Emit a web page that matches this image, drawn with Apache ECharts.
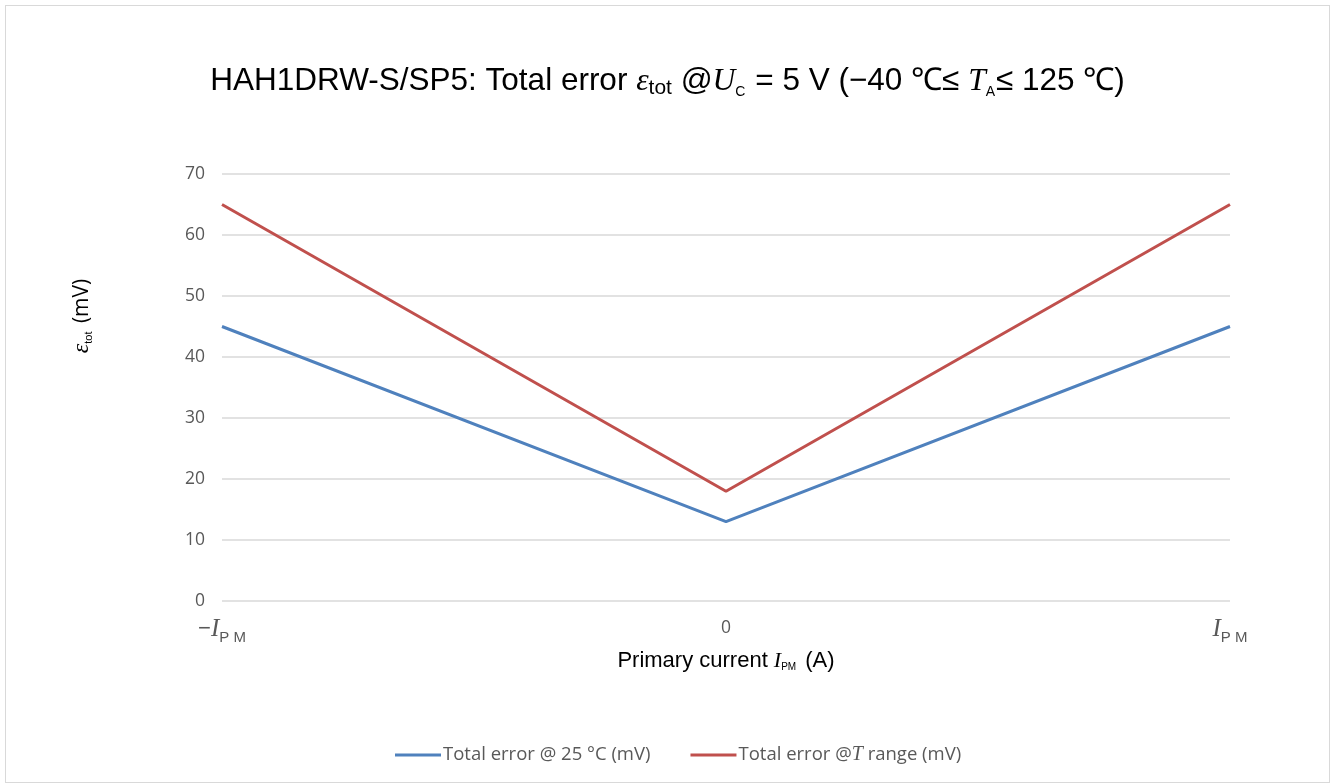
<!DOCTYPE html>
<html style="height: 100%">
<head>
<meta charset="utf-8">
<script type="text/javascript" src="https://cdn.jsdelivr.net/npm/echarts/dist/echarts.min.js"></script>
</head>
<body style="height: 100%; margin: 0; background: #fff">
<div id="container" style="position:absolute; left:5px; top:5px; width:1325px; height:778px; border:1px solid #d9d9d9; box-sizing:border-box"></div>
<script type="text/javascript">
// data
var categories = ['-IPM', '0', 'IPM'];
var err25 = [45, 13, 45];
var errRange = [65, 18, 65];
var seriesNames = ['Total error @ 25 °C (mV)', 'Total error @T range (mV)'];

var dom = document.getElementById('container');
var myChart = echarts.init(dom);

var serif = '"Liberation Serif", "DejaVu Serif", serif';
var sans = 'Arial, "Liberation Sans", sans-serif';
var tickFont = '"Open Sans", "Noto Sans", sans-serif';

var option = {
    animation: false,
    title: {
        text: '{t|HAH1DRW-S/SP5: Total error }{e|ε}{s|tot}{t| @}{i|U}{c|C}{t| = 5 V (−40 ℃≤ }{i|T}{c|A}{t|≤ 125 ℃)}',
        left: 'center',
        top: 53,
        textStyle: {
            fontWeight: 'normal',
            rich: {
                t: { fontFamily: sans, fontSize: 31.5, color: '#000', fontWeight: 'normal' },
                e: { fontFamily: serif, fontStyle: 'italic', fontSize: 31.5, color: '#000', fontWeight: 'normal' },
                i: { fontFamily: serif, fontStyle: 'italic', fontSize: 31.5, color: '#000', fontWeight: 'normal' },
                s: { fontFamily: sans, fontSize: 21, color: '#000', fontWeight: 'normal', verticalAlign: 'bottom', padding: [14, 0, 0, 0] },
                c: { fontFamily: sans, fontSize: 14, color: '#000', fontWeight: 'normal', verticalAlign: 'bottom', padding: [14, 1, 0, 0] }
            }
        }
    },
    grid: { left: 216, right: 99, top: 168, bottom: 181 },
    legend: {
        bottom: 12,
        left: 384,
        icon: 'rect',
        itemWidth: 46,
        itemHeight: 3,
        itemGap: 40,
        data: seriesNames,
        formatter: function (name) {
            if (name === seriesNames[1]) return '{l|Total error @}{i|T}{l| range (mV)}';
            return '{l|' + name + '}';
        },
        textStyle: {
            fontSize: 18.5,
            padding: [0, 0, 0, -3],
            rich: {
                l: { fontFamily: tickFont, fontSize: 18.5, color: '#595959' },
                i: { fontFamily: serif, fontStyle: 'italic', fontSize: 20, color: '#595959' }
            }
        }
    },
    graphic: [{
        type: 'text',
        x: 76,
        y: 310,
        rotation: Math.PI / 2,
        style: {
            text: '{e|ε}{s|tot}{t| (mV)}',
            align: 'center',
            verticalAlign: 'middle',
            rich: {
                e: { fontFamily: serif, fontStyle: 'italic', fontSize: 24, fill: '#000' },
                s: { fontFamily: sans, fontSize: 11, fill: '#000', verticalAlign: 'bottom', padding: [10, 3, 0, 0] },
                t: { fontFamily: tickFont, fontSize: 21, fill: '#000' }
            }
        }
    }],
    xAxis: {
        type: 'category',
        boundaryGap: false,
        data: categories,
        name: '{t|Primary current }{i|I}{c|PM}{t| (A)}',
        nameLocation: 'middle',
        nameGap: 44,
        nameTextStyle: {
            rich: {
                t: { fontFamily: sans, fontSize: 22, color: '#000' },
                i: { fontFamily: serif, fontStyle: 'italic', fontSize: 22, color: '#000' },
                c: { fontFamily: sans, fontSize: 10, color: '#000', verticalAlign: 'bottom', padding: [9, 3, 0, 0] }
            }
        },
        axisLine: { show: false },
        axisTick: { show: false },
        axisLabel: {
            margin: 12,
            fontFamily: tickFont,
            fontSize: 17.5,
            color: '#595959',
            formatter: function (v) {
                if (v === '-IPM') return '{m|−}{i|I}{s|P M}';
                if (v === 'IPM') return '{i|I}{s|P M}';
                return '{z|' + v + '}';
            },
            rich: {
                m: { fontFamily: sans, fontSize: 22, color: '#595959' },
                i: { fontFamily: serif, fontStyle: 'italic', fontSize: 25, color: '#595959' },
                s: { fontFamily: sans, fontSize: 15, color: '#595959', verticalAlign: 'bottom', padding: [17, 0, 0, 0] },
                z: { fontFamily: tickFont, fontSize: 17.5, color: '#595959', padding: [6, 0, 0, 0] }
            }
        }
    },
    yAxis: {
        type: 'value',
        min: 0,
        max: 70,
        interval: 10,
        axisLine: { show: false },
        axisTick: { show: false },
        axisLabel: { fontFamily: tickFont, fontSize: 17.5, color: '#595959', margin: 17 },
        splitLine: { lineStyle: { color: '#d9d9d9', width: 1.5 } }
    },
    series: [
        {
            name: seriesNames[0],
            type: 'line',
            data: err25,
            symbol: 'none',
            lineStyle: { color: '#4f81bd', width: 3 },
            itemStyle: { color: '#4f81bd' }
        },
        {
            name: seriesNames[1],
            type: 'line',
            data: errRange,
            symbol: 'none',
            lineStyle: { color: '#c0504d', width: 3 },
            itemStyle: { color: '#c0504d' }
        }
    ]
};
myChart.setOption(option);
</script>
</body>
</html>
